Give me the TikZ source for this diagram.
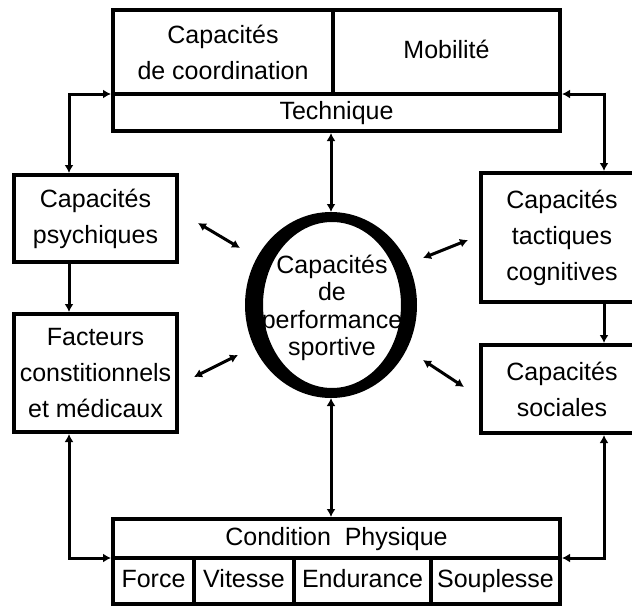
\documentclass[tikz,border=0pt]{standalone}
\usepackage{fontspec}
\setmainfont{Liberation Sans}
\usetikzlibrary{arrows.meta,shapes.geometric}
\begin{document}
\begin{tikzpicture}[x=1pt,y=-1pt,
  box/.style={draw, line width=4pt, inner sep=0pt, align=center,
    font=\fontsize{25}{36}\selectfont},
  cell/.style={box, text height=18pt, text depth=5pt},
  conn/.style={line width=3pt, {Latex[length=8pt,width=9pt]}-{Latex[length=8pt,width=9pt]}},
  oneway/.style={line width=3pt, -{Latex[length=8pt,width=9pt]}}]
\path[use as bounding box] (0,0) rectangle (632,608);
\clip (0,0) rectangle (632,608);
% top block
\node[box, minimum width=220pt, minimum height=84pt] (coord) at (223,52) {Capacités\\de coordination};
\node[cell, minimum width=227pt, minimum height=84pt] (mobil) at (446.5,52) {Mobilité};
\node[cell, minimum width=447pt, minimum height=37pt] (tech) at (336.5,112.5) {Technique};
% bottom block
\node[cell, minimum width=447pt, minimum height=39pt] (cond) at (336.5,538.5) {Condition\ \ Physique};
\node[cell, minimum width=81pt, minimum height=46pt] (force) at (153.5,581) {Force};
\node[cell, minimum width=100pt, minimum height=46pt] (vit) at (244,581) {Vitesse};
\node[cell, minimum width=137pt, minimum height=46pt] (endu) at (362.5,581) {Endurance};
\node[cell, minimum width=129pt, minimum height=46pt] (soup) at (495.5,581) {Souplesse};
% side boxes
\node[box, minimum width=163pt, minimum height=87pt] (psy) at (95.5,218.5) {Capacités\\psychiques};
\node[box, minimum width=163pt, minimum height=118pt] (fact) at (95.5,373) {Facteurs\\constitionnels\\et médicaux};
\node[box, minimum width=162pt, minimum height=129pt] (tact) at (562,237.5) {Capacités\\tactiques\\cognitives};
\node[box, minimum width=162pt, minimum height=88pt] (soc) at (562,389) {Capacités\\sociales};
% central ring
\node[ellipse, minimum width=172pt, minimum height=186pt, inner sep=0pt, outer sep=0pt] (perf) at (331,305) {};
\fill[even odd rule] (331,305) ellipse [x radius=86pt, y radius=93pt]
  (332,305) ellipse [x radius=69pt, y radius=83pt];
\node[align=center, font=\fontsize{25}{27.5}\selectfont, inner sep=0pt] (perftext) at (332,308) {Capacités\\de\\performance\\sportive};
% helper coordinates
\coordinate (lx) at (69,0);
\coordinate (rx) at (604,0);
\coordinate (ytop) at (0,94);
\coordinate (ybot) at (0,558);
% connectors
\draw[conn] (psy.north -| lx) |- (tech.west |- ytop);
\draw[conn] (tact.north -| rx) |- (tech.east |- ytop);
\draw[conn] (fact.south -| lx) |- (cond.west |- ybot);
\draw[conn] (soc.south -| rx) |- (cond.east |- ybot);
\draw[oneway] (psy.south -| lx) -- (fact.north -| lx);
\draw[oneway] (tact.south -| rx) -- (soc.north -| rx);
\draw[conn] (perf.north |- tech.south) -- (perf.north);
\draw[conn] (perf.south) -- (perf.south |- cond.north);
% diagonal arrows
\coordinate (d1a) at (198,223); \coordinate (d1b) at (240,248);
\coordinate (d2a) at (194,377); \coordinate (d2b) at (238,355);
\coordinate (d3a) at (423,258); \coordinate (d3b) at (468,240);
\coordinate (d4a) at (423,360); \coordinate (d4b) at (464,387);
\draw[conn] (d1a) -- (d1b);
\draw[conn] (d2a) -- (d2b);
\draw[conn] (d3a) -- (d3b);
\draw[conn] (d4a) -- (d4b);
\end{tikzpicture}
\end{document}
